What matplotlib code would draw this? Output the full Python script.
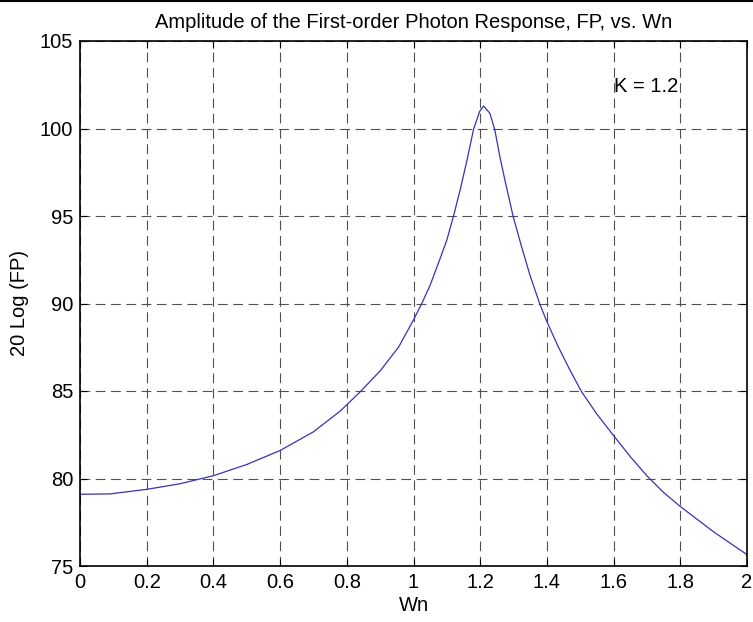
import matplotlib
matplotlib.use('Agg')
import matplotlib.pyplot as plt
from matplotlib.lines import Line2D

plt.rcParams['font.family'] = ['Liberation Sans', 'DejaVu Sans']
plt.rcParams['lines.scale_dashes'] = False

# values
wn = [0.0, 0.09, 0.2, 0.3, 0.4, 0.5, 0.6, 0.7, 0.78, 0.84, 0.9, 0.955, 1.0,
      1.025, 1.05, 1.08, 1.1, 1.12, 1.14, 1.16, 1.18, 1.198, 1.21, 1.229,
      1.244, 1.259, 1.274, 1.299, 1.324, 1.349, 1.379, 1.4, 1.434, 1.469,
      1.504, 1.549, 1.6, 1.65, 1.7, 1.75, 1.8, 1.9, 2.0]
fp_db = [79.1, 79.12, 79.38, 79.7, 80.16, 80.8, 81.6, 82.67, 83.85, 84.95,
         86.15, 87.5, 89.06, 90.01, 91.05, 92.58, 93.63, 95.0, 96.5, 98.15,
         99.95, 100.96, 101.29, 100.87, 99.91, 98.39, 97.06, 94.96, 93.25,
         91.63, 89.95, 88.96, 87.53, 86.2, 84.96, 83.7, 82.45, 81.25, 80.15,
         79.2, 78.4, 76.95, 75.65]

xticks = [0, 0.2, 0.4, 0.6, 0.8, 1, 1.2, 1.4, 1.6, 1.8, 2]
xticklabels = ['0', '0.2', '0.4', '0.6', '0.8', '1', '1.2', '1.4', '1.6', '1.8', '2']
yticks = [75, 80, 85, 90, 95, 100, 105]

fig = plt.figure(figsize=(7.53, 6.22), dpi=100)
ax = fig.add_axes([80 / 753, 56 / 622, 667 / 753, 525 / 622])

ax.plot(wn, fp_db, color='#3434b4', linewidth=0.9)

ax.set_xlim(0, 2)
ax.set_ylim(75, 105)
ax.set_xticks(xticks)
ax.set_xticklabels(xticklabels)
ax.set_yticks(yticks)
ax.grid(True, color='#505050', linewidth=0.8, linestyle=(0, (7, 4)))
ax.tick_params(direction='in', length=5, width=0.8, top=True, right=True,
               labelsize=14.5, colors='black', pad=5)
for s in ax.spines.values():
    s.set_linewidth(1.2)

ax.text(1.6, 102.4, 'K = 1.2', fontsize=14.5, va='center', ha='left')
ax.set_title('Amplitude of the First-order Photon Response, FP, vs. Wn',
             fontsize=14.5, pad=9)
ax.set_xlabel('Wn', fontsize=14.5, labelpad=3)
ax.set_ylabel('20 Log (FP)', fontsize=14.5, labelpad=8)

fig.add_artist(Line2D([0, 1], [0.999, 0.999], color='black', linewidth=1.5,
                      transform=fig.transFigure))

fig.savefig('out.png', dpi=100)
